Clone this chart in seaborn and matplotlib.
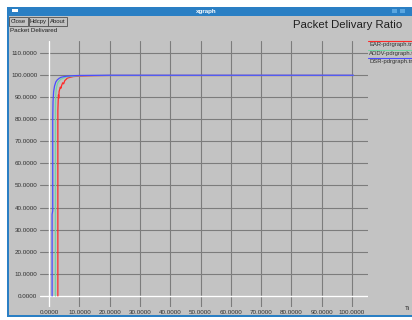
import pandas as pd
import seaborn as sns
import matplotlib.pyplot as plt
from matplotlib.patches import Rectangle
from matplotlib.lines import Line2D
from matplotlib.ticker import FormatStrFormatter

# Values
ear_time = [2.9, 2.9, 3.0, 3.1, 3.2, 3.3, 3.5, 3.7, 3.9, 4.2, 4.5, 4.8, 5.2, 5.6, 6.0,
            7.0, 8.0, 10.0, 15.0, 20.0, 40.0, 60.0, 80.0, 100.5]
ear_pdr = [0.0, 84.0, 88.0, 91.0, 89.5, 92.5, 93.5, 94.5, 94.0, 95.5, 96.5, 96.0, 97.5, 98.0, 98.6,
           99.0, 99.3, 99.5, 99.7, 99.8, 99.8, 99.8, 99.8, 99.8]

aodv_time = [2.1, 2.1, 2.2, 2.4, 2.7, 3.0, 3.5, 4.0, 5.0, 6.0, 8.0, 10.0, 20.0, 40.0, 60.0, 80.0, 100.5]
aodv_pdr = [0.0, 86.0, 91.0, 94.0, 95.8, 96.8, 97.6, 98.2, 98.8, 99.2, 99.5, 99.7, 99.8, 99.8, 99.8, 99.8, 99.8]

dsr_time = [1.0, 1.0, 1.2, 1.2, 1.3, 1.5, 1.8, 2.2, 2.7, 3.3, 4.0, 5.0, 6.0, 8.0, 10.0, 20.0,
            40.0, 60.0, 80.0, 100.5]
dsr_pdr = [0.0, 37.0, 38.5, 80.0, 88.0, 92.5, 95.0, 96.8, 97.8, 98.5, 99.0, 99.3, 99.5, 99.7, 99.8, 99.9,
           99.9, 99.9, 99.9, 99.9]

series_names = ["EAR-pdrgraph.tr", "AODV-pdrgraph.tr", "DSR-pdrgraph.tr"]
series_colors = ["#ff2a2a", "#74d6a4", "#4c4cff"]
x_ticks = [0, 10, 20, 30, 40, 50, 60, 70, 80, 90, 100]
y_ticks = [0, 10, 20, 30, 40, 50, 60, 70, 80, 90, 100, 110]

frames = []
for name, t, p in zip(series_names, [ear_time, aodv_time, dsr_time], [ear_pdr, aodv_pdr, dsr_pdr]):
    frames.append(pd.DataFrame({"time": t, "pdr": p, "file": name}))
df = pd.concat(frames, ignore_index=True)

sns.set_style("whitegrid")
plt.rcParams["font.family"] = ["Liberation Sans", "DejaVu Sans"]

W, H = 412, 320
bg = "#c3c3c3"
fig = plt.figure(figsize=(W / 100, H / 100), dpi=100, facecolor="white")


def px_rect(x0, y0, x1, y1, **kw):
    fig.add_artist(Rectangle((x0 / W, 1 - y1 / H), (x1 - x0) / W, (y1 - y0) / H,
                             transform=fig.transFigure, zorder=-10, **kw))


def px_text(x, y, s, **kw):
    fig.text(x / W, 1 - y / H, s, **kw)


# window frame, title bar and buttons
px_rect(7, 7, 413, 317, facecolor="#2a7fc4", edgecolor="none")
px_rect(9, 16, 413, 315, facecolor=bg, edgecolor="none")
px_rect(12, 9, 18, 12, facecolor="white", edgecolor="none")
px_text(206, 11.5, "xgraph", fontsize=4.5, color="white", ha="center", va="center", fontweight="bold")
for bx, lab in [(9, "Close"), (29, "Hdcpy"), (48, "About")]:
    px_rect(bx, 17, bx + 19, 26, facecolor=bg, edgecolor="#505050", linewidth=0.6)
    px_text(bx + 9.5, 21.5, lab, fontsize=4.3, ha="center", va="center", color="#202020")
for bx in [392, 400]:
    px_rect(bx, 9, bx + 5, 13, facecolor="#5aa6e0", edgecolor="none")
px_text(10, 31, "Packet Delivared", fontsize=4.5, ha="left", va="center", color="#202020")
px_text(402, 25, "Packet Delivary Ratio", fontsize=8.2, ha="right", va="center", color="#202020")

# legend (xgraph style: coloured line above each name)
for i, (name, col) in enumerate(zip(series_names, series_colors)):
    y = 41 + i * 8.5
    fig.add_artist(Line2D([368 / W, 1.0], [1 - y / H] * 2, color=col, lw=0.8,
                          transform=fig.transFigure))
    px_text(369, y + 3.5, name, fontsize=4.2, ha="left", va="center", color="#303030")
px_text(405, 308, "Ti", fontsize=4.5, ha="left", va="center", color="#202020")

ax = fig.add_axes([40 / W, 1 - 307 / H, 328 / W, 266 / H])
ax.set_facecolor(bg)
ax.axhline(0, color="white", lw=1.0, zorder=1)
ax.axvline(0, color="white", lw=1.0, zorder=1)

sns.lineplot(data=df, x="time", y="pdr", hue="file", palette=series_colors,
             sort=False, estimator=None, lw=0.9, legend=False, ax=ax, zorder=3)

ax.set_xlim(-3, 105.3)
ax.set_ylim(-5, 115.4)
ax.set_xticks(x_ticks)
ax.set_yticks(y_ticks)
ax.xaxis.set_major_formatter(FormatStrFormatter("%.4f"))
ax.yaxis.set_major_formatter(FormatStrFormatter("%.4f"))
ax.grid(True, color="#7c7c7c", lw=0.8)
ax.tick_params(length=0, labelsize=4.5, labelcolor="#303030", pad=2)
for s in ax.spines.values():
    s.set_visible(False)
ax.set_xlabel("")
ax.set_ylabel("")

fig.savefig("out.png", dpi=100, facecolor="white")
